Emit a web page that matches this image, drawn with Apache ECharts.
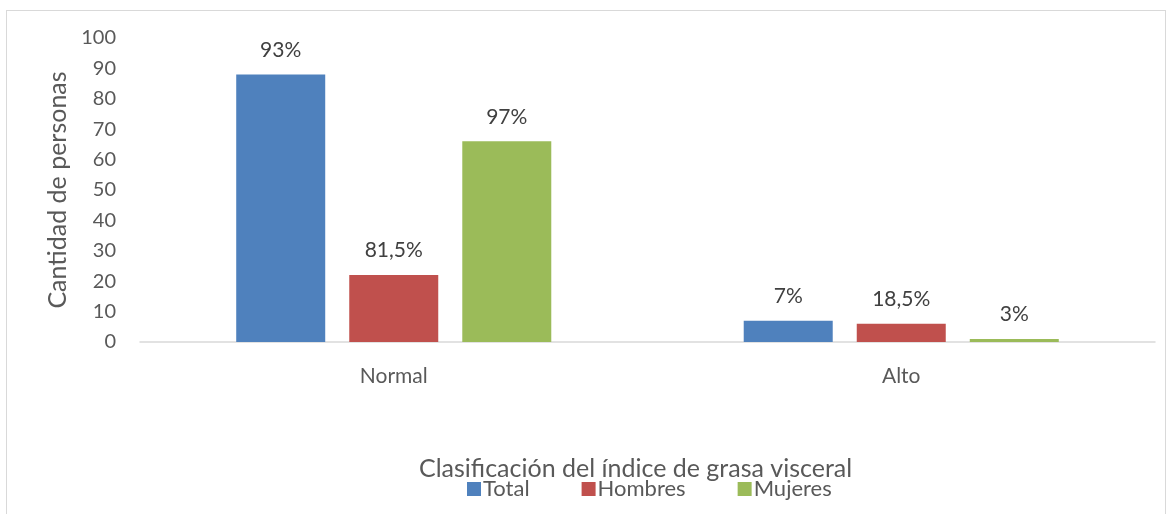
<!DOCTYPE html>
<html>
<head>
<meta charset="utf-8">
<script src="https://cdn.jsdelivr.net/npm/echarts@6/dist/echarts.min.js"></script>
<style>
  html, body { margin: 0; padding: 0; background: #fff; }
  #frame { position: absolute; left: 6px; top: 10px; width: 1160px; height: 510px; border: 1px solid #d9d9d9; box-sizing: border-box; }
  #chart { width: 1172px; height: 514px; position: absolute; left: 0; top: 0; }
</style>
</head>
<body>
<div id="frame"></div>
<div id="chart"></div>
<script>
// categories and values
const categories = ['Normal', 'Alto'];
const seriesNames = ['Total', 'Hombres', 'Mujeres'];
const totalValues = [88, 7];
const hombresValues = [22, 6];
const mujeresValues = [66, 1];
const totalLabels = ['93%', '7%'];
const hombresLabels = ['81,5%', '18,5%'];
const mujeresLabels = ['97%', '3%'];
const colors = ['#4f81bd', '#c0504d', '#9bbb59'];

const FONT = 'Lato, "Open Sans", sans-serif';

function makeSeries(name, values, labels, color) {
    return {
        name: name,
        type: 'bar',
        data: values,
        barWidth: 89,
        barGap: '27%',
        itemStyle: { color: color },
        label: {
            show: true,
            position: 'top',
            distance: 14,
            fontFamily: FONT,
            fontSize: 21,
            color: '#404040',
            formatter: (p) => labels[p.dataIndex],
        },
    };
}

const chart = echarts.init(document.getElementById('chart'), null, { renderer: 'canvas' });
chart.setOption({
    animation: false,
    color: colors,
    // x axis title sits centred on the whole chart, not the plot, so it is a title
    title: {
        text: 'Clasificación del índice de grasa visceral',
        left: 414,
        top: 451,
        textStyle: { fontFamily: FONT, fontSize: 25, fontWeight: 'normal', color: '#595959' },
    },
    grid: { left: 140, right: 17, top: 38, bottom: 172 },
    legend: {
        data: seriesNames,
        left: 462,
        top: 473,
        itemWidth: 14,
        itemHeight: 14,
        itemGap: 52,
        icon: 'rect',
        textStyle: { fontFamily: FONT, fontSize: 22, color: '#595959', padding: [0, 0, 0, -3] },
    },
    xAxis: {
        type: 'category',
        data: categories,
        axisLine: { lineStyle: { color: '#d9d9d9', width: 1.5 } },
        axisTick: { show: false },
        axisLabel: { fontFamily: FONT, fontSize: 21, color: '#595959', margin: 24 },
    },
    yAxis: {
        type: 'value',
        min: 0,
        max: 100,
        interval: 10,
        name: 'Cantidad de personas',
        nameLocation: 'middle',
        nameGap: 67,
        nameTextStyle: { fontFamily: FONT, fontSize: 25, color: '#595959' },
        axisLine: { show: false },
        axisTick: { show: false },
        splitLine: { show: false },
        axisLabel: { fontFamily: FONT, fontSize: 20, color: '#595959', margin: 24 },
    },
    series: [
        makeSeries(seriesNames[0], totalValues, totalLabels, colors[0]),
        makeSeries(seriesNames[1], hombresValues, hombresLabels, colors[1]),
        makeSeries(seriesNames[2], mujeresValues, mujeresLabels, colors[2]),
    ],
});
</script>
</body>
</html>
